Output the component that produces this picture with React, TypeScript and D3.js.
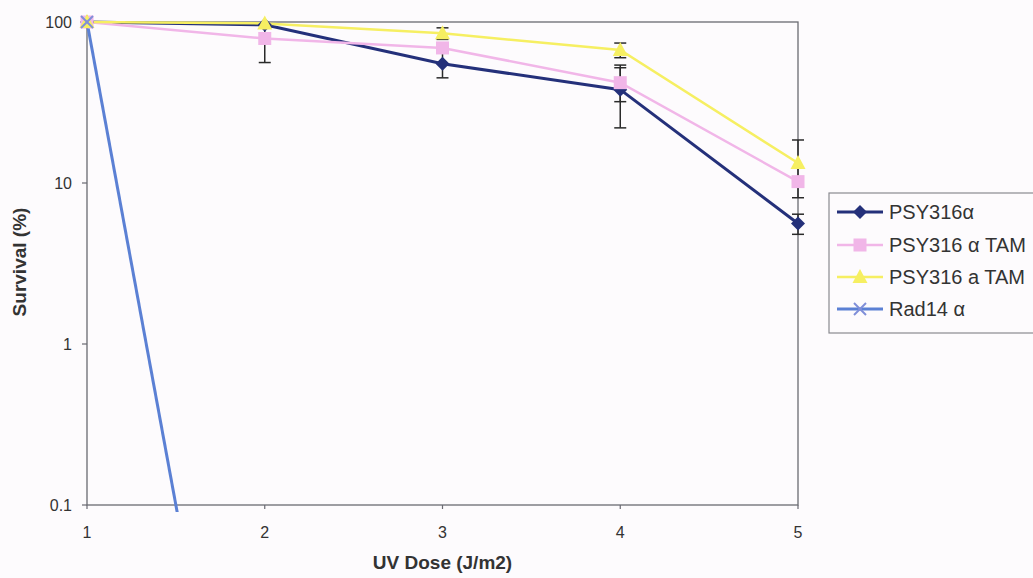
import React from 'react';
import * as d3 from 'd3';

const doses = [1, 2, 3, 4, 5];
const yTicks = [0.1, 1, 10, 100];

const psy316a = [100, 96, 55, 38, 5.6];
const psy316aErr = [0, 0, 10, 16, 0.8];
const psy316aTam = [100, 79, 69, 42, 10.2];
const psy316aTamErr = [0, 23, 0, 10, 0];
const psy316aTam2 = [100, 98, 85, 67, 13.3];
const psy316aTam2Err = [0, 3, 7, 7, 5.2];
const rad14 = [100, 0.0001];

const seriesNames = ['PSY316α', 'PSY316 α TAM', 'PSY316 a TAM', 'Rad14 α'];

export default function App() {
    const W = 1033, H = 578;
    const left = 87, right = 798, top = 22, bottom = 505;

    const x = d3.scaleLinear().domain([1, 5]).range([left, right]);
    const y = d3.scaleLog().domain([0.1, 100]).range([bottom, top]);

    const line = d3.line<number>()
        .x((d, i) => x(doses[i]))
        .y(d => y(d));

    const series = [
        { name: seriesNames[0], values: psy316a, err: psy316aErr, color: '#24307a', width: 3, marker: 'diamond' },
        { name: seriesNames[1], values: psy316aTam, err: psy316aTamErr, color: '#f1b6e8', width: 2.5, marker: 'square' },
        { name: seriesNames[2], values: psy316aTam2, err: psy316aTam2Err, color: '#f6ef62', width: 2.5, marker: 'triangle' },
        { name: seriesNames[3], values: rad14, err: null, color: '#5b80d4', width: 3, marker: 'x' },
    ];

    const marker = (type: string, cx: number, cy: number, color: string, key: any) => {
        if (type === 'diamond') {
            return <path key={key} d={`M${cx},${cy - 7}L${cx + 7},${cy}L${cx},${cy + 7}L${cx - 7},${cy}Z`} fill={color} />;
        } else if (type === 'square') {
            return <rect key={key} x={cx - 6.5} y={cy - 6.5} width={13} height={13} fill={color} />;
        } else if (type === 'triangle') {
            return <path key={key} d={`M${cx},${cy - 8}L${cx + 7.5},${cy + 6}L${cx - 7.5},${cy + 6}Z`} fill={color} />;
        }
        return (
            <g key={key} stroke={color} strokeWidth={2}>
                <line x1={cx - 6} y1={cy - 6} x2={cx + 6} y2={cy + 6} />
                <line x1={cx - 6} y1={cy + 6} x2={cx + 6} y2={cy - 6} />
            </g>
        );
    };

    const font = "'Liberation Sans', Arial, sans-serif";
    const legendRows = [212, 245, 277, 309];

    return (
        <svg width={W} height={H} style={{ position: 'absolute', left: 0, top: 0, background: '#fdfbfd' }}
            fontFamily={font}>
            <defs>
                <clipPath id="plot-clip">
                    <rect x={left} y={top - 10} width={right - left + 10} height={bottom - top + 17} />
                </clipPath>
            </defs>

            {/* plot frame */}
            <rect x={left} y={top} width={right - left} height={bottom - top} fill="none" stroke="#6a6a72" strokeWidth={1.3} />

            {/* y ticks */}
            {yTicks.map(t => (
                <g key={'y' + t}>
                    <line x1={left - 5} x2={left} y1={y(t)} y2={y(t)} stroke="#6a6a72" strokeWidth={1.2} />
                    <text x={left - 15} y={y(t)} dy="0.35em" textAnchor="end" fontSize={16} fill="#333">{t}</text>
                </g>
            ))}

            {/* x ticks */}
            {doses.map(d => (
                <g key={'x' + d}>
                    <line x1={x(d)} x2={x(d)} y1={bottom} y2={bottom + 4} stroke="#6a6a72" strokeWidth={1.2} />
                    <text x={x(d)} y={bottom + 27} dy="0.35em" textAnchor="middle" fontSize={16} fill="#333">{d}</text>
                </g>
            ))}

            {/* series lines */}
            <g clipPath="url(#plot-clip)">
                {series.map(s => (
                    <path key={'l' + s.name} d={line(s.values) || ''} fill="none" stroke={s.color} strokeWidth={s.width} />
                ))}
            </g>

            {/* error bars */}
            {series.map(s => s.err && s.err.map((e, i) => {
                if (!e) return null;
                const cx = x(doses[i]);
                const y1 = y(s.values[i] + e), y2 = y(s.values[i] - e);
                return (
                    <g key={'e' + s.name + i} stroke="#2a2a2a" strokeWidth={1.5}>
                        <line x1={cx} x2={cx} y1={Math.max(y1, top)} y2={y2} />
                        {y1 >= top && <line x1={cx - 6} x2={cx + 6} y1={y1} y2={y1} />}
                        <line x1={cx - 6} x2={cx + 6} y1={y2} y2={y2} />
                    </g>
                );
            }))}

            {/* markers */}
            {series.map(s => s.values.map((v, i) =>
                v >= 0.1 ? marker(s.marker, x(doses[i]), y(v), s.marker === 'x' ? '#7f8ed8' : s.color, s.name + i) : null
            ))}

            {/* axis titles */}
            <text x={(left + right) / 2} y={569} textAnchor="middle" fontSize={19} fontWeight="bold" fill="#333">UV Dose (J/m2)</text>
            <text transform={`translate(26,262) rotate(-90)`} textAnchor="middle" fontSize={19} fontWeight="bold" fill="#333">Survival (%)</text>

            {/* legend */}
            <rect x={829} y={193} width={220} height={140} fill="none" stroke="#8a8a90" strokeWidth={1.2} />
            {series.map((s, i) => (
                <g key={'lg' + s.name}>
                    <line x1={837} x2={883} y1={legendRows[i]} y2={legendRows[i]} stroke={s.color} strokeWidth={s.width} />
                    {marker(s.marker, 860, legendRows[i], s.marker === 'x' ? '#7f8ed8' : s.color, 'lm' + i)}
                    <text x={889} y={legendRows[i]} dy="0.35em" fontSize={20} fill="#333">{s.name}</text>
                </g>
            ))}
        </svg>
    );
}
